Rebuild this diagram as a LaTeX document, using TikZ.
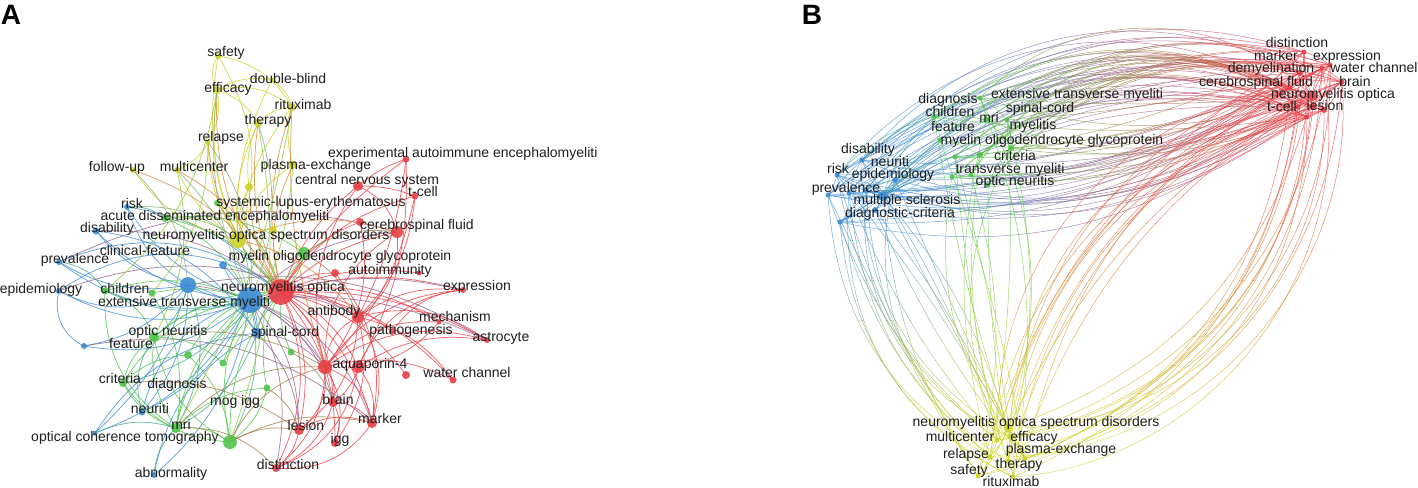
\documentclass[tikz,border=0pt]{standalone}
\usepackage{fontspec}
\setmainfont{Liberation Sans}
\definecolor{cR}{RGB}{232,62,70}
\definecolor{cB}{RGB}{62,140,212}
\definecolor{cG}{RGB}{80,195,75}
\definecolor{cY}{RGB}{205,210,40}
\definecolor{txt}{RGB}{30,30,30}
\colorlet{cP}{cR!50!cB}
\colorlet{cO}{cR!50!cY}
\colorlet{cT}{cB!50!cG}
\colorlet{cL}{cG!50!cY}
\colorlet{cGR}{cG!50!cR}
\colorlet{cBY}{cB!50!cY}
\colorlet{bc}{black}
% gradient helpers: #1 bundle, #2 from colour, #3 to colour, #4 start, #5 end
\newcommand\gradx[5]{%
  \foreach \j in {0,...,11}{%
    \pgfmathsetmacro\xa{#4+(#5-#4)*\j/12}%
    \pgfmathsetmacro\xb{#4+(#5-#4)*(\j+1)/12}%
    \ifnum\j=0 \def\xa{600}\fi
    \ifnum\j=11 \def\xb{1600}\fi
    \pgfmathtruncatemacro\pc{100*\j/11}%
    \begin{scope}
      \clip (\xa,-50) rectangle (\xb,540);
      \colorlet{bc}{#3!\pc!#2}%
      #1%
    \end{scope}}}
\newcommand\grady[5]{%
  \foreach \j in {0,...,11}{%
    \pgfmathsetmacro\ya{#4+(#5-#4)*\j/12}%
    \pgfmathsetmacro\yb{#4+(#5-#4)*(\j+1)/12}%
    \ifnum\j=0 \def\ya{-50}\fi
    \ifnum\j=11 \def\yb{540}\fi
    \pgfmathtruncatemacro\pc{100*\j/11}%
    \begin{scope}
      \clip (600,\ya) rectangle (1600,\yb);
      \colorlet{bc}{#3!\pc!#2}%
      #1%
    \end{scope}}}
\newcommand\bunBRup{\foreach \i in {0,...,33}{%
  \pgfmathtruncatemacro\srcN{mod(\i,9)+1}%
  \pgfmathtruncatemacro\tgtN{mod(\i*4,11)+1}%
  \pgfmathtruncatemacro\bnd{14+mod(\i*7,27)}%
  \draw[edgeB] (B\srcN) to[bend left=\bnd] (R\tgtN);}}
\newcommand\bunBRlo{\foreach \i in {0,...,25}{%
  \pgfmathtruncatemacro\srcN{mod(\i,9)+1}%
  \pgfmathtruncatemacro\tgtN{mod(\i*5,11)+1}%
  \pgfmathtruncatemacro\bnd{6+mod(\i*5,26)}%
  \draw[edgeB] (B\srcN) to[bend right=\bnd] (R\tgtN);}}
\newcommand\bunGRup{\foreach \i in {0,...,21}{%
  \pgfmathtruncatemacro\srcN{mod(\i,11)+1}%
  \pgfmathtruncatemacro\tgtN{mod(\i*3,11)+1}%
  \pgfmathtruncatemacro\bnd{20+mod(\i*7,26)}%
  \draw[edgeB] (G\srcN) to[bend left=\bnd] (R\tgtN);}}
\newcommand\bunGRlo{\foreach \i in {0,...,15}{%
  \pgfmathtruncatemacro\srcN{mod(\i*2,11)+1}%
  \pgfmathtruncatemacro\tgtN{mod(\i*7,11)+1}%
  \pgfmathtruncatemacro\bnd{4+mod(\i*3,20)}%
  \draw[edgeB] (G\srcN) to[bend right=\bnd] (R\tgtN);}}
\newcommand\bunBY{\foreach \i in {0,...,21}{%
  \pgfmathtruncatemacro\srcN{mod(\i,9)+1}%
  \pgfmathtruncatemacro\tgtN{mod(\i*3,8)+1}%
  \pgfmathtruncatemacro\bnd{-12+mod(\i*7,50)}%
  \draw[edgeB] (B\srcN) to[bend right=\bnd] (Y\tgtN);}}
\newcommand\bunGY{\foreach \i in {0,...,13}{%
  \pgfmathtruncatemacro\srcN{mod(\i*3,11)+1}%
  \pgfmathtruncatemacro\tgtN{mod(\i*5,8)+1}%
  \pgfmathtruncatemacro\bnd{-22+mod(\i*9,46)}%
  \draw[edgeB] (G\srcN) to[bend right=\bnd] (Y\tgtN);}}
\newcommand\bunRYa{\foreach \i in {0,...,15}{%
  \pgfmathtruncatemacro\srcN{mod(\i,11)+1}%
  \pgfmathtruncatemacro\tgtN{mod(\i*3,8)+1}%
  \pgfmathtruncatemacro\bnd{28+mod(\i*5,22)}%
  \draw[edgeB] (R\srcN) to[bend left=\bnd] (Y\tgtN);}}
\newcommand\bunRYb{\foreach \i in {0,...,13}{%
  \pgfmathtruncatemacro\srcN{mod(\i*2,11)+1}%
  \pgfmathtruncatemacro\tgtN{mod(\i*5,8)+1}%
  \pgfmathtruncatemacro\bnd{16+mod(\i*5,26)}%
  \draw[edgeB] (R\srcN) to[bend right=\bnd] (Y\tgtN);}}

\def\Anodes{ms/250/300/cB/13, bhub/188/285/cB/8, bsm/223/265/cB/4, spinal/257/333/cB/5,
 risk/127/207/cB/3, disab/96/231/cB/3.5, prev/59/262/cB/3, epid/59/291/cB/3, feat/84/346/cB/3,
 neuriti/142/412/cB/3.5, oct/95/433/cB/2.5, abn/154/475/cB/3,
 mog/304/253/cG/6, syst/217/203/cG/3, acute/165/218/cG/4, children/105/291/cG/3.5, gch/152/293/cG/3.5,
 optic/154/337/cG/5, gone/188/355/cG/4, gtwo/223/363/cG/3.5, gthree/291/352/cG/3.5, mogigg/267/388/cG/3.5,
 criteria/123/383/cG/4, mri/176/428/cG/5, gbig/230/442/cG/7,
 ysm/273/230/cY/4, yp/249/187/cY/4, safety/218/56/cY/3, eff/217/90/cY/4, dblind/272/80/cY/2.5,
 ritux/292/107/cY/4, therapy/258/123/cY/4, relapse/208/142/cY/2.5, follow/133/170/cY/3, multi/177/170/cY/3,
 plasma/293/165/cY/4, nmosd/238/240/cY/8,
 aqpa/325/367/cR/7, aqpb/358/367/cR/6, cns/358/186/cR/5, tcell/415/196/cR/3.5, exper/406/159/cR/3.5,
 csf/397/232/cR/6, csftwo/360/222/cR/4, autoim/335/273/cR/4, autoimtwo/419/273/cR/2.5, expr/463/290/cR/3,
 antib/358/317/cR/6, mech/439/322/cR/2.5, patho/392/332/cR/3, astro/487/340/cR/3, wch/406/375/cR/4,
 wchtwo/453/380/cR/3.5, brain/333/402/cR/5, marker/372/423/cR/5, igg/335/443/cR/4, lesion/299/430/cR/5,
 dist/276/468/cR/4, nmo/281/292/cR/13}

\def\Aedges{nmo/cns/cR/15, nmo/tcell/cR/20, nmo/exper/cR/10, nmo/csf/cR/15, nmo/csftwo/cR/20, nmo/autoim/cR/20,
 nmo/autoimtwo/cR/15, nmo/expr/cR/15, nmo/antib/cR/20, nmo/mech/cR/20, nmo/patho/cR/20, nmo/astro/cR/15,
 nmo/aqpa/cR/20, nmo/aqpb/cR/20, nmo/wch/cR/20, nmo/wchtwo/cR/20, nmo/brain/cR/25, nmo/marker/cR/20,
 nmo/igg/cR/20, nmo/lesion/cR/20, nmo/dist/cR/25,
 aqpa/antib/cR/30, aqpa/brain/cR/25, aqpa/marker/cR/30, aqpa/igg/cR/25, aqpa/lesion/cR/30, aqpa/dist/cR/25,
 aqpa/wchtwo/cR/20, aqpa/astro/cR/25, aqpa/expr/cR/25, aqpa/mech/cR/25, aqpa/cns/cR/25, aqpa/csf/cR/30,
 aqpb/marker/cR/25, aqpb/expr/cR/30, aqpb/astro/cR/20, aqpb/brain/cR/20, aqpb/dist/cR/30,
 antib/expr/cR/20, antib/astro/cR/25, antib/marker/cR/25, antib/lesion/cR/25, antib/wchtwo/cR/20, antib/igg/cR/25,
 cns/tcell/cR/10, cns/exper/cR/10, cns/csf/cR/25, exper/aqpb/cR/15, tcell/antib/cR/20, exper/antib/cR/10,
 tcell/aqpa/cR/15, brain/marker/cR/25, brain/igg/cR/25, lesion/marker/cR/25, lesion/dist/cR/20, brain/dist/cR/25,
 marker/dist/cR/30, patho/expr/cR/25, mech/aqpb/cR/20, csf/antib/cR/30, autoim/marker/cR/25, csftwo/aqpa/cR/25,
 ms/risk/cB/20, ms/disab/cB/20, ms/prev/cB/25, ms/epid/cB/25, ms/feat/cB/25, ms/neuriti/cB/20, ms/oct/cB/20,
 ms/abn/cB/20, ms/bhub/cB/15, ms/bsm/cB/15, ms/spinal/cB/15, bhub/prev/cB/20, bhub/epid/cB/30, bhub/risk/cB/20,
 bhub/disab/cB/20, bhub/feat/cB/20, bhub/neuriti/cB/20, bhub/oct/cB/15, bhub/spinal/cB/20, prev/nmo/cB/30,
 epid/nmo/cB/35, feat/epid/cB/40, risk/nmo/cB/20, disab/spinal/cB/25, abn/spinal/cB/25, oct/spinal/cB/25,
 neuriti/ms/cB/30, bsm/spinal/cB/20, spinal/nmo/cB/20,
 ms/antib/cP/20, ms/aqpa/cP/20, ms/brain/cP/25, ms/marker/cP/25, ms/lesion/cP/20, ms/expr/cP/15, ms/astro/cP/15,
 ms/csf/cP/20, bhub/aqpa/cP/25, bhub/astro/cP/20, prev/csf/cP/20, disab/nmo/cP/20, epid/antib/cP/25,
 spinal/aqpa/cP/20, spinal/lesion/cP/20, ms/dist/cP/20, feat/marker/cP/25,
 mog/nmo/cG/20, mog/ms/cG/20, optic/ms/cG/20, optic/nmo/cG/20, children/ms/cG/20, gch/ms/cG/15, criteria/ms/cG/25,
 criteria/optic/cG/20, mri/optic/cG/20, mri/ms/cG/20, mri/nmo/cG/25, mri/gbig/cG/20, gbig/ms/cG/20, gbig/nmo/cG/20,
 gbig/optic/cG/25, mogigg/nmo/cG/20, mogigg/gbig/cG/20, gone/ms/cG/20, gtwo/nmo/cG/20, gthree/nmo/cG/15,
 acute/ms/cG/20, acute/nmo/cG/20, syst/nmo/cG/20, syst/ms/cG/20, children/optic/cG/25, mri/criteria/cG/20,
 gbig/criteria/cG/25, mri/children/cG/30, gone/gbig/cG/20, mri/mogigg/cG/20, optic/gtwo/cG/20, gch/mri/cG/20,
 criteria/gone/cG/20, acute/mog/cG/20,
 ms/children/cT/20, bhub/optic/cT/20, bhub/mri/cT/25, ms/criteria/cT/20, neuriti/optic/cT/25, ms/gbig/cT/20,
 spinal/mri/cT/20, oct/mri/cT/20, abn/mri/cT/20, risk/acute/cT/20, prev/children/cT/25,
 mog/csf/cGR/20, mogigg/lesion/cGR/20, gbig/lesion/cGR/20, gbig/aqpa/cGR/25, mri/aqpa/cGR/25, gbig/marker/cGR/20,
 gthree/brain/cGR/20, mog/antib/cGR/20, optic/aqpa/cGR/20, mri/dist/cGR/25, criteria/lesion/cGR/20,
 nmosd/safety/cY/15, nmosd/eff/cY/15, nmosd/dblind/cY/15, nmosd/ritux/cY/15, nmosd/therapy/cY/15,
 nmosd/relapse/cY/15, nmosd/follow/cY/20, nmosd/multi/cY/15, nmosd/plasma/cY/20, nmosd/ysm/cY/20, nmosd/yp/cY/15,
 eff/safety/cY/30, eff/ritux/cY/25, eff/dblind/cY/20, dblind/ritux/cY/20, therapy/ritux/cY/20, eff/therapy/cY/20,
 safety/ritux/cY/25, relapse/multi/cY/20, eff/relapse/cY/20, plasma/ritux/cY/15, yp/therapy/cY/15, safety/nmosd/cY/25,
 nmo/ritux/cO/15, nmo/therapy/cO/15, nmo/plasma/cO/20, nmo/eff/cO/20, nmo/relapse/cO/20, follow/nmo/cO/20,
 multi/nmo/cO/20, nmo/yp/cO/15, aqpa/ritux/cO/10, nmosd/antib/cO/20, nmosd/csf/cO/20,
 therapy/gbig/cL/15, ritux/mri/cL/10, plasma/gtwo/cL/15, eff/children/cL/20, multi/optic/cL/20, ysm/mog/cL/20,
 relapse/gch/cL/20, acute/nmosd/cL/20,
 ms/eff/cBY/15, relapse/ms/cBY/20, multi/ms/cBY/15, follow/bhub/cBY/20, therapy/ms/cBY/20, risk/nmosd/cBY/20}

\def\Alabels{safety/226/53, double-blind/288/80, efficacy/228/89, rituximab/303/106, therapy/268/121,
 relapse/221/138, follow-up/117/168, multicenter/194/168, plasma-exchange/316/166,
 central nervous system/367/181, t-cell/423/193, systemic-lupus-erythematosus/311/203, risk/132/205,
 acute disseminated encephalomyeliti/215/217, cerebrospinal fluid/417/226, disability/107/229,
 neuromyelitis optica spectrum disorders/266/236, clinical-feature/145/252, prevalence/75/260,
 myelin oligodendrocyte glycoprotein/340/257, autoimmunity/390/271, epidemiology/41/290, children/125/290,
 neuromyelitis optica/283/288, expression/477/287, extensive transverse myeliti/184/303, antibody/334/312,
 mechanism/455/318, pathogenesis/411/331, astrocyte/501/338, optic neuritis/168/332, spinal-cord/285/333,
 feature/131/345, aquaporin-4/370/365, water channel/467/374, criteria/120/380, diagnosis/177/385,
 brain/338/401, mog igg/235/402, neuriti/150/410, marker/380/420, mri/181/426, lesion/306/427,
 optical coherence tomography/125/438, igg/340/440, distinction/288/466, abnormality/171/474}

\def\Bnodes{B2/837/175/cB/2.5, B3/828/195/cB/2.5, B4/849/193/cB/2.5, B5/840/222/cB/2.5, B6/866/190/cB/3,
 B7/862/160/cB/2.5, B8/895/180/cB/3, B9/875/210/cB/3, B1/883/196/cB/5,
 G1/980/98/cG/2.5, G2/986/120/cG/3, G3/934/117/cG/2.5, G4/1007/120/cG/2.5, G5/1011/148/cG/3, G6/980/155/cG/3,
 G7/955/157/cG/2.5, G8/971/175/cG/2.5, G9/952/177/cG/2.5, G10/988/185/cG/2.5, G11/940/140/cG/2.5,
 Y2/997/440/cY/2.5, Y3/1010/437/cY/2.5, Y4/1025/459/cY/2.5, Y5/990/457/cY/2.5, Y6/1008/461/cY/2.5,
 Y7/978/476/cY/2.5, Y8/1013/477/cY/2.5, Y1/1008/428/cY/4,
 R2/1304/52/cR/2.5, R3/1322/68/cR/2.5, R4/1330/65/cR/2.5, R5/1342/82/cR/2.5, R6/1300/73/cR/3, R7/1313/107/cR/3,
 R8/1307/117/cR/2.5, R9/1324/110/cR/3, R10/1298/107/cR/2.5, R11/1290/88/cR/2.5, R1/1312/96/cR/5}

\def\Blabels{distinction/1297/44, marker/1276/57, expression/1347/57, demyelination/1271/69,
 water channel/1374/69, cerebrospinal fluid/1256/83, brain/1355/83, neuromyelitis optica/1333/95,
 lesion/1325/107, t-cell/1282/108, diagnosis/948/100, extensive transverse myeliti/1077/95,
 children/950/113, mri/989/119, spinal-cord/1040/109, feature/953/128, myelitis/1033/126,
 myelin oligodendrocyte glycoprotein/1052/141, disability/868/150, neuriti/890/163, criteria/1015/157,
 risk/838/170, epidemiology/893/175, transverse myeliti/1010/170, optic neuritis/1015/182,
 prevalence/846/189, multiple sclerosis/907/201, diagnostic-criteria/900/214,
 neuromyelitis optica spectrum disorders/1036/423, multicenter/960/438, efficacy/1034/438,
 plasma-exchange/1061/450, relapse/966/455, therapy/1019/465, safety/969/471, rituximab/1011/483}

\begin{document}
\begin{tikzpicture}[x=1pt,y=-1pt,
  lbl/.style={font=\fontsize{14}{16}\selectfont,text=txt,inner sep=0pt,text height=10pt,text depth=3pt},
  edgeA/.style={line width=0.75pt,opacity=0.8},
  edgeB/.style={line width=0.5pt,opacity=0.75,draw=bc},
  panel/.style={font=\fontsize{28}{30}\selectfont\bfseries,inner sep=0pt,text=black}]
\useasboundingbox (0,0) rectangle (1418,487);
\begin{scope}
\clip (0,0) rectangle (1418,487);
% ---------- panel A ----------
\foreach \n/\x/\y/\col/\r in \Anodes {\coordinate (\n) at (\x,\y);}
\foreach \ea/\eb/\ec/\ek in \Aedges {\draw[edgeA,draw=\ec] (\ea) to[bend left=\ek] (\eb);}
\foreach \n/\x/\y/\col/\r in \Anodes {\fill[fill=\col,opacity=0.9] (\n) circle[radius=\r pt];}
\foreach \t/\x/\y [count=\k] in \Alabels {\node[lbl] (la\k) at (\x,\y) {\t};}
\node[lbl,anchor=west] (laexp) at (328,154) {experimental autoimmune encephalomyeliti};
% ---------- panel B ----------
\foreach \n/\x/\y/\col/\r in \Bnodes {\coordinate (\n) at (\x,\y);}
\gradx{\bunBRup}{cB}{cR}{890}{1310}
\gradx{\bunBRlo}{cB}{cR}{890}{1310}
\gradx{\bunGRup}{cG}{cR}{950}{1310}
\gradx{\bunGRlo}{cG}{cR}{950}{1310}
\grady{\bunBY}{cB}{cY}{200}{440}
\grady{\bunGY}{cG}{cY}{180}{440}
\grady{\bunRYa}{cR}{cY}{110}{450}
\grady{\bunRYb}{cR}{cY}{110}{450}
% internal cluster edges
\foreach \ea/\eb in {R1/R2,R1/R3,R1/R4,R1/R5,R1/R6,R1/R7,R1/R8,R1/R9,R1/R10,R1/R11,R2/R6,R3/R5,R4/R9,R6/R11,R2/R4,R5/R9,R11/R10,R3/R7}
  {\draw[line width=0.5pt,cR,opacity=0.8] (\ea) to[bend left=10] (\eb);}
\foreach \ea/\eb in {B1/B2,B1/B3,B1/B4,B1/B5,B1/B6,B1/B7,B1/B8,B1/B9,B2/B3,B4/B7,B5/B9,B6/B8}
  {\draw[line width=0.5pt,cB,opacity=0.8] (\ea) to[bend left=10] (\eb);}
\foreach \ea/\eb in {G1/G2,G2/G5,G3/G2,G4/G5,G6/G7,G8/G9,G10/G5,G11/G6,G1/G4,G6/G8,G3/G11}
  {\draw[line width=0.5pt,cG,opacity=0.8] (\ea) to[bend left=10] (\eb);}
\foreach \ea/\eb in {B1/G3,B1/G11,B1/G7,B1/G9,B7/G1,B8/G6,B1/G2,B2/G3,B6/G8}
  {\draw[line width=0.5pt,cT,opacity=0.7] (\ea) to[bend left=15] (\eb);}
\foreach \ea/\eb in {Y1/Y2,Y1/Y3,Y1/Y4,Y1/Y5,Y1/Y6,Y1/Y7,Y1/Y8,Y2/Y5,Y5/Y7,Y6/Y8,Y3/Y4}
  {\draw[line width=0.5pt,cY,opacity=0.9] (\ea) to[bend left=10] (\eb);}
\foreach \n/\x/\y/\col/\r in \Bnodes {\fill[fill=\col,opacity=0.9] (\n) circle[radius=\r pt];}
\foreach \t/\x/\y [count=\k] in \Blabels {\node[lbl] (lb\k) at (\x,\y) {\t};}
\end{scope}
\node[panel] (pA) at (11,15) {A};
\node[panel] (pB) at (812,15) {B};
\end{tikzpicture}
\end{document}
